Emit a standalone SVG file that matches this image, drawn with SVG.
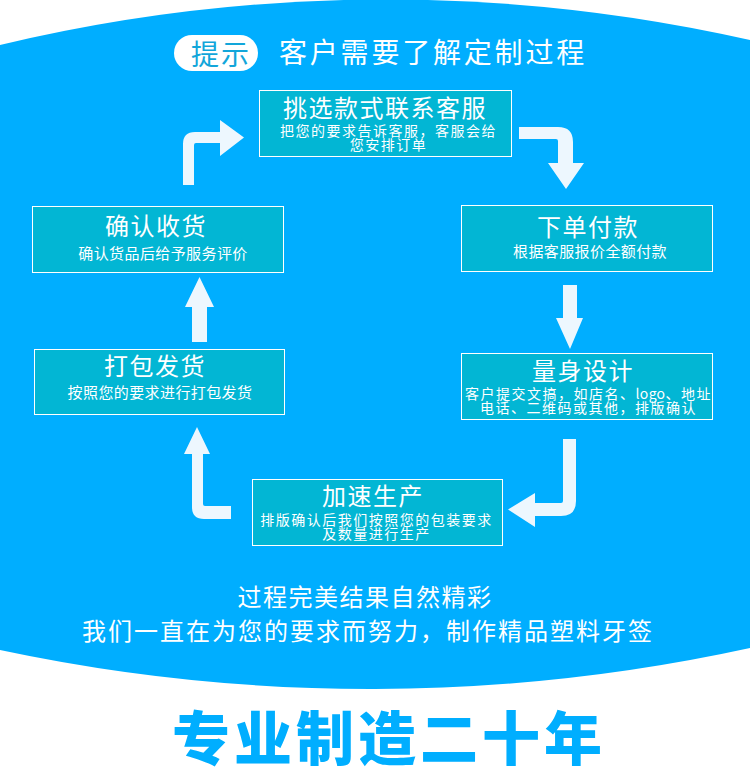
<svg xmlns="http://www.w3.org/2000/svg" width="750" height="779" viewBox="0 0 750 779">
<defs>
<style>
text{font-family:"Noto Sans CJK SC","Noto Sans",sans-serif;fill:#fff;text-anchor:middle}
.box{fill:#02B6D4;stroke:#fff;stroke-width:1}
.t{font-size:24px;letter-spacing:1.5px}
.s{font-size:15px;letter-spacing:0.4px}
.s2{font-size:14px;letter-spacing:1.5px}
.arrow{fill:#EDF7FE}
</style>
</defs>
<rect width="750" height="779" fill="#fff"/>
<path d="M0 45 A1657 1657 0 0 1 750 40 L750 648 A1778 1778 0 0 1 0 650 Z" fill="#00AEFF"/>

<g id="header">
<rect x="174" y="35" width="84" height="36" rx="18" fill="#fff"/>
<text x="221" y="65" style="font-size:28px;fill:#12A6DA;letter-spacing:2px">提示</text>
<text x="279" y="63" style="font-size:28px;letter-spacing:2.8px;text-anchor:start">客户需要了解定制过程</text>
</g>

<g id="connectors">
<path class="arrow" d="M183 185 L183 144 Q183 132 195 132 L220 132 L220 120 L244 137.5 L220 156 L220 143 L196 143 Q194 143 194 145 L194 185 Z"/>
<path class="arrow" d="M519 127 L558 127 Q573 127 573 142 L573 163 L584 163 L566 189 L548 163 L558 163 L558 141 Q558 139 556 139 L519 139 Z"/>
<path class="arrow" d="M563 285 L577 285 L577 318 L583 318 L570 349 L556 318 L563 318 Z"/>
<path class="arrow" d="M576 439 L576 501 Q576 516 561 516 L535 516 L535 527 L508 509.5 L535 493 L535 503 L561 503 Q563 503 563 501 L563 439 Z"/>
<path class="arrow" d="M197 427 L210 454 L203 454 L203 504 Q203 506 205 506 L231 506 L231 519 L204 519 Q192 519 192 507 L192 454 L184 454 Z"/>
<path class="arrow" d="M199.5 277 L214 307 L207 307 L207 342 L192 342 L192 307 L185 307 Z"/>
</g>

<g id="node-select">
<rect class="box" x="259.5" y="90.5" width="252" height="66"/>
<text class="t" x="385" y="116.5">挑选款式联系客服</text>
<text class="s2" x="388.5" y="136">把您的要求告诉客服，客服会给</text>
<text class="s2" x="388.5" y="149.5">您安排订单</text>
</g>

<g id="node-pay">
<rect class="box" x="461.5" y="205.5" width="251" height="66"/>
<text class="t" x="588" y="236">下单付款</text>
<text class="s" x="590" y="257">根据客服报价全额付款</text>
</g>

<g id="node-design">
<rect class="box" x="461.5" y="353.5" width="251" height="66"/>
<text class="t" x="583" y="380">量身设计</text>
<text class="s2" x="588.5" y="398.5">客户提交文搞，如店名、<tspan style="letter-spacing:0.3px">logo</tspan>、地址</text>
<text class="s2" x="588.5" y="413">电话、二维码或其他，排版确认</text>
</g>

<g id="node-produce">
<rect class="box" x="252.5" y="479.5" width="250" height="66"/>
<text class="t" x="373" y="505">加速生产</text>
<text class="s2" x="376.5" y="524.5">排版确认后我们按照您的包装要求</text>
<text class="s2" x="376.5" y="539">及数量进行生产</text>
</g>

<g id="node-ship">
<rect class="box" x="34.5" y="349.5" width="250" height="65"/>
<text class="t" x="155" y="375">打包发货</text>
<text class="s" x="160" y="398">按照您的要求进行打包发货</text>
</g>

<g id="node-receive">
<rect class="box" x="32.5" y="206.5" width="251" height="66"/>
<text class="t" x="156" y="235">确认收货</text>
<text class="s" x="163" y="259">确认货品后给予服务评价</text>
</g>

<g id="footer">
<text x="365" y="606" style="font-size:24px;letter-spacing:1.5px">过程完美结果自然精彩</text>
<text x="368" y="640" style="font-size:24px;letter-spacing:2px">我们一直在为您的要求而努力，制作精品塑料牙签</text>
<text x="389" y="760" style="font-size:58px;font-weight:900;letter-spacing:4px;fill:#00AEFF">专业制造二十年</text>
</g>
</svg>
